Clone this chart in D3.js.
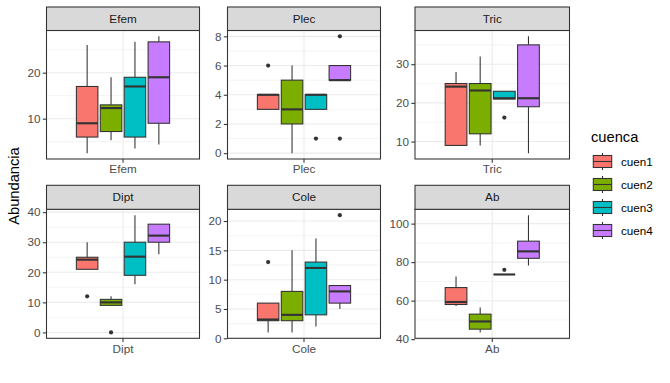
<!DOCTYPE html>
<html><head><meta charset="utf-8">
<script src="https://cdn.jsdelivr.net/npm/d3@7"></script>
<style>body{margin:0;background:#fff} svg{display:block}</style>
</head><body><svg id="c" width="670" height="383"></svg>
<script>
// ---------- DATA ----------
const panelNames = ["Efem","Plec","Tric","Dipt","Cole","Ab"];
const groups = ["cuen1","cuen2","cuen3","cuen4"];
const fills = ["#F8766D","#7CAE00","#00BFC4","#C77CFF"];
// box stats per cuenca: [lower whisker, Q1, median, Q3, upper whisker]
const efemStats = [[2.5,6,9,17,26],[5.3,7.2,12.3,13,19],[3.5,6,17,19,26.7],[4.4,9,19,26.7,27.9]];
const plecStats = [[3,3,4,4,4],[0,2,3,5,6],[3,3,4,4,4],[5,5,5,6,6]];
const tricStats = [[9,9,24.2,25,28],[9,12,23.2,25,32],[21,21,21.2,23,23],[7,19,21.2,35,37.2]];
const diptStats = [[21,21,24.2,25,30],[9,9,10,11,12],[16,19,25.2,30,39],[26,30,32.2,36,36]];
const coleStats = [[1,3,3.2,6,6],[1,3,4,8,15],[2,4,12,13,17],[5,6,8,9,9]];
const abStats = [[57.2,58,59.3,66.8,72.5],[43.5,45.2,49.2,53,56.5],[73.6,73.6,73.6,73.6,73.6],[78.3,82,85.6,90.9,104.4]];
// outliers per cuenca
const efemOut = [[],[],[],[]];
const plecOut = [[6],[],[1],[1,8]];
const tricOut = [[],[],[16.2],[]];
const diptOut = [[12],[0],[],[]];
const coleOut = [[13],[],[],[21]];
const abOut = [[],[],[76],[]];
// y tick labels
const efemTicks = [10,20];
const plecTicks = [0,2,4,6,8];
const tricTicks = [10,20,30];
const diptTicks = [0,10,20,30,40];
const coleTicks = [0,5,10,15,20];
const abTicks = [40,60,80,100];
const yTitle = "Abundancia";
const legendTitle = "cuenca";

const statsList = [efemStats,plecStats,tricStats,diptStats,coleStats,abStats];
const outList = [efemOut,plecOut,tricOut,diptOut,coleOut,abOut];
const tickList = [efemTicks,plecTicks,tricTicks,diptTicks,coleTicks,abTicks];

// ---------- LAYOUT ----------
const cols = [[46.5,199.5],[227.5,380.5],[415,569.5]];
const rows = [{strip:7, top:30.5, bottom:159},{strip:185.3, top:209.3, bottom:338.3}];
const INK = "#333333", GRID = "#EBEBEB";
const FONT = "'Liberation Sans', Arial, sans-serif";
const lw = 1.07;

const svg = d3.select("#c");
svg.append("rect").attr("width",670).attr("height",383).attr("fill","#fff");

panelNames.forEach((name, i) => {
  const c = cols[i % 3], r = rows[Math.floor(i / 3)];
  const stats = statsList[i], outs = outList[i], ticks = tickList[i];
  const allVals = stats.flat().concat(outs.flat());
  const [lo, hi] = d3.extent(allVals);
  const pad = (hi - lo) * 0.05;
  const y = d3.scaleLinear().domain([lo - pad, hi + pad]).range([r.bottom, r.top]);
  const width = c[1] - c[0];
  const cx = c[0] + width / 2;
  const unit = width / 1.2;
  const xg = d3.scaleBand().domain(groups)
    .range([cx - 0.375 * unit, cx + 0.375 * unit]).paddingInner(0.1).paddingOuter(0.05);

  const g = svg.append("g");
  // panel bg
  g.append("rect").attr("x", c[0]).attr("y", r.top).attr("width", width).attr("height", r.bottom - r.top).attr("fill", "#fff");
  // minor grid
  const step = ticks[1] - ticks[0];
  const minors = d3.range(ticks[0] - step / 2, ticks[ticks.length - 1] + step, step)
    .filter(v => v > y.domain()[0] && v < y.domain()[1]);
  g.selectAll(".mn").data(minors).enter().append("line")
    .attr("x1", c[0]).attr("x2", c[1]).attr("y1", d => y(d)).attr("y2", d => y(d))
    .attr("stroke", GRID).attr("stroke-width", 0.53);
  // major grid
  g.selectAll(".mj").data(ticks).enter().append("line")
    .attr("x1", c[0]).attr("x2", c[1]).attr("y1", d => y(d)).attr("y2", d => y(d))
    .attr("stroke", GRID).attr("stroke-width", lw);
  g.append("line").attr("x1", cx).attr("x2", cx).attr("y1", r.top).attr("y2", r.bottom)
    .attr("stroke", GRID).attr("stroke-width", lw);

  // boxes
  groups.forEach((gr, k) => {
    const s = stats[k];
    const bx = xg(gr), bw = xg.bandwidth(), mx = bx + bw / 2;
    const gg = g.append("g");
    gg.append("line").attr("x1", mx).attr("x2", mx).attr("y1", y(s[3])).attr("y2", y(s[4]))
      .attr("stroke", INK).attr("stroke-width", lw);
    gg.append("line").attr("x1", mx).attr("x2", mx).attr("y1", y(s[1])).attr("y2", y(s[0]))
      .attr("stroke", INK).attr("stroke-width", lw);
    gg.append("rect").attr("x", bx).attr("width", bw)
      .attr("y", y(s[3])).attr("height", Math.max(0, y(s[1]) - y(s[3])))
      .attr("fill", fills[k]).attr("stroke", INK).attr("stroke-width", lw);
    gg.append("line").attr("x1", bx).attr("x2", bx + bw).attr("y1", y(s[2])).attr("y2", y(s[2]))
      .attr("stroke", INK).attr("stroke-width", 2.13);
    gg.selectAll("circle").data(outs[k]).enter().append("circle")
      .attr("cx", mx).attr("cy", d => y(d)).attr("r", 2.1).attr("fill", INK);
  });

  // panel border
  g.append("rect").attr("x", c[0]).attr("y", r.top).attr("width", width).attr("height", r.bottom - r.top)
    .attr("fill", "none").attr("stroke", INK).attr("stroke-width", lw);
  // strip
  g.append("rect").attr("x", c[0]).attr("y", r.strip).attr("width", width).attr("height", r.top - r.strip)
    .attr("fill", "#D9D9D9").attr("stroke", INK).attr("stroke-width", lw);
  g.append("text").attr("x", cx).attr("y", (r.strip + r.top) / 2).attr("dy", "0.35em")
    .attr("text-anchor", "middle").attr("font-family", FONT).attr("font-size", "11.7px")
    .attr("fill", "#1A1A1A").text(name);

  // y axis
  const ya = d3.axisLeft(y).tickValues(ticks).tickSize(3.7).tickPadding(2.2);
  const yg = g.append("g").attr("transform", `translate(${c[0]},0)`).call(ya);
  yg.select(".domain").remove();
  yg.selectAll(".tick line").attr("stroke", INK).attr("stroke-width", lw);
  yg.selectAll(".tick text").attr("font-family", FONT).attr("font-size", "11.7px").attr("fill", "#4D4D4D");

  // x axis
  const xs = d3.scaleBand().domain([name]).range([c[0], c[1]]);
  const xa = d3.axisBottom(xs).tickSize(3.7).tickPadding(2.2);
  const xgA = g.append("g").attr("transform", `translate(0,${r.bottom})`).call(xa);
  xgA.select(".domain").remove();
  xgA.selectAll(".tick line").attr("stroke", INK).attr("stroke-width", lw);
  xgA.selectAll(".tick text").attr("font-family", FONT).attr("font-size", "11.7px").attr("fill", "#4D4D4D");
});

// y title
svg.append("text").attr("transform", "translate(19,186) rotate(-90)")
  .attr("text-anchor", "middle").attr("font-family", FONT).attr("font-size", "14.7px")
  .attr("fill", "#000").text(yTitle);

// legend
const lg = svg.append("g");
lg.append("text").attr("x", 591).attr("y", 141.5).attr("font-family", FONT).attr("font-size", "14.7px")
  .attr("fill", "#000").text(legendTitle);
const ly = d3.scalePoint().domain(groups).range([161.5, 230.5]);
groups.forEach((gr, k) => {
  const cy = ly(gr);
  lg.append("line").attr("x1", 602.5).attr("x2", 602.5).attr("y1", cy - 8.5).attr("y2", cy + 8.5)
    .attr("stroke", INK).attr("stroke-width", lw);
  lg.append("rect").attr("x", 593.3).attr("y", cy - 6).attr("width", 18.4).attr("height", 12)
    .attr("fill", fills[k]).attr("stroke", INK).attr("stroke-width", lw);
  lg.append("line").attr("x1", 593.3).attr("x2", 611.7).attr("y1", cy).attr("y2", cy)
    .attr("stroke", INK).attr("stroke-width", lw);
  lg.append("text").attr("x", 621).attr("y", cy).attr("dy", "0.35em").attr("font-family", FONT)
    .attr("font-size", "11.7px").attr("fill", "#000").text(gr);
});
</script></body></html>
